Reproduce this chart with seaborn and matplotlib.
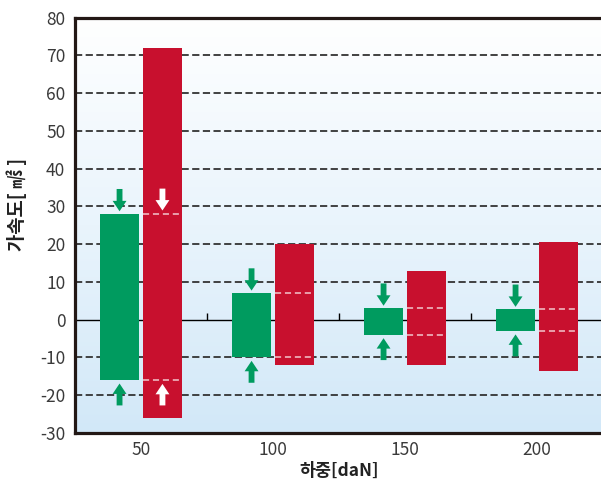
import pandas as pd
import matplotlib.pyplot as plt
import seaborn as sns
import numpy as np
from matplotlib.colors import LinearSegmentedColormap

# 데이터
loads = ['50', '100', '150', '200']
green_top = [28, 7, 3, 2.7]
green_bottom = [-16, -10, -4, -3]
red_top = [72, 20, 13, 20.5]
red_bottom = [-26, -12, -12, -13.5]
yticks = [-30, -20, -10, 0, 10, 20, 30, 40, 50, 60, 70, 80]

GREEN = '#009b5f'
RED = '#c8102e'
DARK = '#231815'

sns.set_theme(style="white")
plt.rcParams['font.family'] = ['Noto Sans CJK KR', 'DejaVu Sans']
plt.rcParams['axes.unicode_minus'] = False

df = pd.DataFrame({
    '하중': loads * 2,
    '종류': ['green'] * 4 + ['red'] * 4,
    'low': green_bottom + red_bottom,
    'high': green_top + red_top,
})
df['span'] = df['high'] - df['low']

fig = plt.figure(figsize=(6.01, 4.79), dpi=100)
ax = fig.add_axes([75 / 601, 1 - 433 / 479, 528 / 601, 415.5 / 479])

# 배경 그라데이션 (위: 흰색, 아래: 연한 하늘색)
grad = np.linspace(1, 0, 256).reshape(-1, 1)
bg = LinearSegmentedColormap.from_list('bg', ['#ffffff', '#e9f4fc', '#d2e8f8'])
ax.imshow(grad, extent=[-0.5, 3.5, -30, 80], origin='lower', aspect='auto',
          cmap=bg, zorder=0)

sns.barplot(data=df, x='하중', y='span', hue='종류', palette=[GREEN, RED],
            width=0.65, gap=0.11, dodge=True, legend=False, ax=ax,
            saturation=1, zorder=3, linewidth=0)

# 막대 아래쪽 위치 이동
for cont, lows in zip(ax.containers, [green_bottom, red_bottom]):
    for p, lo in zip(cont.patches, lows):
        p.set_y(lo)

# 점선 격자
for v in yticks[1:-1]:
    if v == 0:
        ax.axhline(0, color='black', lw=1.0, zorder=1)
    else:
        ax.axhline(v, color='#333333', lw=1.3, ls=(0, (4, 1.9)), zorder=1)
ax.vlines([0.5, 1.5, 2.5], 0, 1.9, color='black', lw=1.0, zorder=1)

# 빨간 막대 안의 흰 점선 + 화살표
red_patches = ax.containers[1].patches
green_patches = ax.containers[0].patches
aprops = dict(arrowstyle='simple,head_length=0.75,head_width=1.0,tail_width=0.42',
              shrinkA=0, shrinkB=0, mutation_scale=10, lw=0)
for i, (rp, gp) in enumerate(zip(red_patches, green_patches)):
    x0, w = rp.get_x(), rp.get_width()
    ax.hlines([green_top[i], green_bottom[i]], x0, x0 + w, colors='#f3c6cd',
              lw=1.1, ls=(0, (4, 2.5)), zorder=4)
    gx = gp.get_x() + gp.get_width() / 2
    ax.annotate('', xy=(gx, green_top[i] + 0.7), xytext=(gx, green_top[i] + 6.6),
                arrowprops=dict(aprops, color=GREEN), zorder=5)
    ax.annotate('', xy=(gx, green_bottom[i] - 0.9), xytext=(gx, green_bottom[i] - 6.7),
                arrowprops=dict(aprops, color=GREEN), zorder=5)
    if i == 0:
        rx = x0 + w / 2
        ax.annotate('', xy=(rx, green_top[i] + 0.9), xytext=(rx, green_top[i] + 6.7),
                    arrowprops=dict(aprops, color='white'), zorder=5)
        ax.annotate('', xy=(rx, green_bottom[i] - 1.0), xytext=(rx, green_bottom[i] - 6.7),
                    arrowprops=dict(aprops, color='white'), zorder=5)

ax.set_xlim(-0.5, 3.5)
ax.set_ylim(-30, 80)
ax.set_yticks(yticks)
ax.tick_params(axis='both', length=0, labelsize=12.5, labelcolor='#3a3a3a')
ax.tick_params(axis='y', pad=7)
ax.tick_params(axis='x', pad=6)
for lab in ax.get_xticklabels() + ax.get_yticklabels():
    lab.set_fontweight('light')

for s in ['left', 'top', 'bottom']:
    ax.spines[s].set_color(DARK)
    ax.spines[s].set_linewidth(2.3)
    ax.spines[s].set_zorder(6)
ax.spines['right'].set_visible(False)

ax.set_xlabel('하중[daN]', fontsize=12.5, fontweight='bold', color='#222222', labelpad=2)
ax.set_ylabel('가속도[ ㎨ ]', fontsize=13.5, fontweight='bold', color='#222222')
ax.yaxis.set_label_coords(-0.09, 0.55)

fig.savefig('out.png', dpi=100)
